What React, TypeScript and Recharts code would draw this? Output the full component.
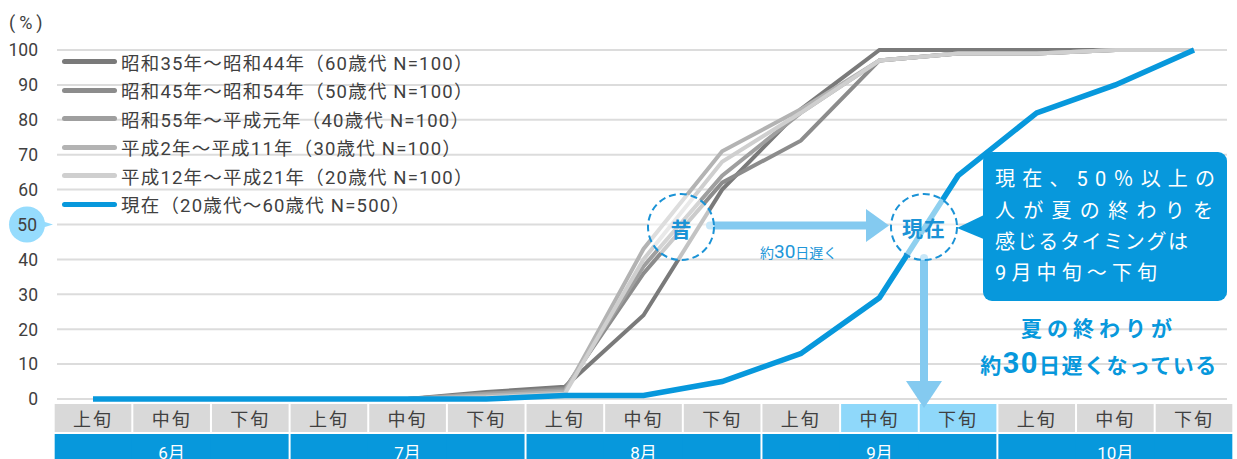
import { CartesianGrid, Legend, Line, LineChart, XAxis, YAxis } from "recharts";

// 旬ごとの累積割合（%）
const periods = [
  "6月上旬", "6月中旬", "6月下旬",
  "7月上旬", "7月中旬", "7月下旬",
  "8月上旬", "8月中旬", "8月下旬",
  "9月上旬", "9月中旬", "9月下旬",
  "10月上旬", "10月中旬", "10月下旬",
];
const age60 = [0, 0, 0, 0, 0, 2, 3.5, 24, 60, 83, 100, 100, 100, 100, 100];
const age50 = [0, 0, 0, 0, 0, 1.5, 3, 36, 62, 74, 97, 99, 99, 100, 100];
const age40 = [0, 0, 0, 0, 0, 1.5, 2.5, 38, 64, 82, 97, 99, 99, 100, 100];
const age30 = [0, 0, 0, 0, 0, 1, 2, 43, 71, 83, 97, 99, 99, 100, 100];
const age20 = [0, 0, 0, 0, 0, 0.5, 1.5, 40, 68, 82, 97, 99, 99, 100, 100];
const current = [0, 0, 0, 0, 0, 0, 1, 1, 5, 13, 29, 64, 82, 90, 100];

const yTicks = [0, 10, 20, 30, 40, 50, 60, 70, 80, 90, 100];
const highlightPeriods = ["9月中旬", "9月下旬"];

const seriesNames = [
  "昭和35年～昭和44年（60歳代 N=100）",
  "昭和45年～昭和54年（50歳代 N=100）",
  "昭和55年～平成元年（40歳代 N=100）",
  "平成2年～平成11年（30歳代 N=100）",
  "平成12年～平成21年（20歳代 N=100）",
  "現在（20歳代～60歳代 N=500）",
];

const data = periods.map((period, i) => ({
  period,
  age60: age60[i],
  age50: age50[i],
  age40: age40[i],
  age30: age30[i],
  age20: age20[i],
  current: current[i],
}));

const W = 1237;
const H = 459;
const X_H = 60;
const M = { top: 50, right: 10, bottom: 0, left: 0 };
const Y_W = 57;
const PAD_L = 36;
const PAD_R = 33;
const CELL_W = (W - M.left - M.right - Y_W - PAD_L - PAD_R) / (periods.length - 1);

const FONT = "Roboto, 'Noto Sans CJK JP', sans-serif";
const BLUE = "#0798dc";
const TEXT = "#404040";

function YTick({ x, y, payload }: any) {
  const isHalf = payload.value === 50;
  return (
    <g>
      {isHalf && (
        <>
          <circle cx={27} cy={y} r={18} fill="#96dcfd" />
          <polygon points={`${40},${y - 4} ${53},${y} ${40},${y + 4}`} fill="#96dcfd" />
        </>
      )}
      <text
        x={isHalf ? 37 : x}
        y={y}
        dy="0.36em"
        textAnchor="end"
        fontSize={17.5}
        fill={TEXT}
        fontFamily={FONT}
      >
        {payload.value}
      </text>
    </g>
  );
}

function PeriodTick({ x, y, payload }: any) {
  const value: string = payload.value;
  const month = value.slice(0, -2);
  const third = value.slice(-2);
  const half = CELL_W / 2;
  // 同じ月の中では青帯をつなげ、月の境目だけ白い隙間を残す
  const left = third === "上旬" ? x - half + 1 : x - half - 0.5;
  const right = third === "下旬" ? x + half - 1 : x + half + 0.5;
  return (
    <g>
      <rect
        x={x - half + 1}
        y={y + 5}
        width={CELL_W - 2}
        height={28}
        fill={highlightPeriods.includes(value) ? "#8fd8fa" : "#d9d9d9"}
      />
      <text
        x={x}
        y={y + 21}
        dy="0.36em"
        textAnchor="middle"
        fontSize={18}
        letterSpacing={2}
        fill={TEXT}
        fontFamily={FONT}
      >
        {third}
      </text>
      <rect x={left} y={y + 35} width={right - left} height={30} fill={BLUE} />
      {third === "中旬" && (
        <text
          x={x}
          y={y + 54}
          dy="0.36em"
          textAnchor="middle"
          fontSize={17}
          fill="#fff"
          fontFamily={FONT}
        >
          {month}
        </text>
      )}
    </g>
  );
}

function LegendList({ payload }: any) {
  const items = [...(payload ?? [])].sort(
    (a: any, b: any) => seriesNames.indexOf(a.value) - seriesNames.indexOf(b.value)
  );
  return (
    <div style={{ fontFamily: FONT }}>
      {items.map((item: any) => (
        <div key={item.value} style={{ display: "flex", alignItems: "center", height: 28.5 }}>
          <span
            style={{
              display: "inline-block",
              width: 55,
              height: 5,
              borderRadius: 3,
              background: item.color,
              marginRight: 4,
            }}
          />
          <span style={{ fontSize: 18.5, color: TEXT, whiteSpace: "nowrap", letterSpacing: 1.2 }}>
            {item.value}
          </span>
        </div>
      ))}
    </div>
  );
}

function Notes() {
  const arrow = "#84caf0";
  const ring = "#1b93d6";
  return (
    <svg
      width={W}
      height={H}
      style={{ position: "absolute", left: 0, top: 0, pointerEvents: "none" }}
      fontFamily={FONT}
    >
      <text x={9} y={23} dy="0.36em" fontSize={18} fill={TEXT}>
        (<tspan dx={4}>%</tspan><tspan dx={4}>)</tspan>
      </text>

      {/* 昔 → 現在 */}
      <line x1={710} y1={225.5} x2={868} y2={225.5} stroke={arrow} strokeWidth={8} strokeLinecap="round" />
      <polygon points="866,209 889,225.5 866,242" fill={arrow} />
      <text x={760} y={252} dy="0.36em" fill="#2196d8">
        <tspan fontSize={14}>約</tspan>
        <tspan fontSize={19}>30</tspan>
        <tspan fontSize={14}>日遅く</tspan>
      </text>

      <circle cx={681} cy={227} r={33} fill="#fff" fillOpacity={0.55} stroke={ring} strokeWidth={2} strokeDasharray="7 4" />
      <text x={681} y={229} dy="0.36em" textAnchor="middle" fontSize={21} fontWeight={700} fill={ring}>昔</text>

      <line x1={924} y1={258} x2={924} y2={385} stroke={arrow} strokeWidth={8} strokeLinecap="round" />
      <polygon points="906,381 942,381 924,408" fill={arrow} />

      <circle cx={924} cy={227} r={33} fill="#fff" fillOpacity={0.55} stroke={ring} strokeWidth={2} strokeDasharray="7 4" />
      <text x={924} y={228} dy="0.36em" textAnchor="middle" fontSize={21} fontWeight={700} fill={ring} letterSpacing={1}>現在</text>

      {/* 吹き出し */}
      <polygon points="986,214 957,228 986,240" fill={BLUE} />
      <rect x={983} y={152} width={244} height={149} rx={9} fill={BLUE} />
      <g fill="#fff" fontSize={20}>
        <text x={995} y={179} dy="0.36em" textLength={220} lengthAdjust="spacing">現在、50％以上の</text>
        <text x={995} y={211} dy="0.36em" textLength={218} lengthAdjust="spacing">人が夏の終わりを</text>
        <text x={995} y={242} dy="0.36em" textLength={193} lengthAdjust="spacing">感じるタイミングは</text>
        <text x={995} y={273} dy="0.36em" textLength={162} lengthAdjust="spacing">9月中旬～下旬</text>
      </g>

      <g fill={BLUE} fontWeight={700}>
        <text x={1099} y={328} dy="0.36em" textAnchor="middle" fontSize={21} letterSpacing={5}>夏の終わりが</text>
        <text x={1099} y={367} dy="0.36em" textAnchor="middle" letterSpacing={1.5}>
          <tspan fontSize={21}>約</tspan>
          <tspan fontSize={29}>30</tspan>
          <tspan fontSize={21}>日遅くなっている</tspan>
        </text>
      </g>
    </svg>
  );
}

export default function App() {
  return (
    <div style={{ position: "absolute", left: 0, top: 0, width: W, height: H, background: "#fff", overflow: "hidden" }}>
      <LineChart width={W} height={H} data={data} margin={M}>
        <CartesianGrid vertical={false} stroke="#dcdcdc" strokeWidth={2} />
        <XAxis
          dataKey="period"
          interval={0}
          axisLine={false}
          tickLine={false}
          tickSize={0}
          tickMargin={0}
          height={X_H}
          padding={{ left: PAD_L, right: PAD_R }}
          tick={<PeriodTick />}
        />
        <YAxis
          domain={[0, 100]}
          ticks={yTicks}
          interval={0}
          axisLine={false}
          tickLine={false}
          tickSize={0}
          tickMargin={19}
          width={Y_W}
          tick={<YTick />}
        />
        <Legend
          layout="horizontal"
          verticalAlign="middle"
          align="center"
          wrapperStyle={{ left: 62, top: 47.5, width: "auto" }}
          content={(props: any) => <LegendList {...props} />}
        />
        <Line dataKey="age60" name={seriesNames[0]} stroke="#7a7a7a" strokeWidth={4} dot={false} isAnimationActive={false} />
        <Line dataKey="age50" name={seriesNames[1]} stroke="#8c8c8c" strokeWidth={4} dot={false} isAnimationActive={false} />
        <Line dataKey="age40" name={seriesNames[2]} stroke="#9f9f9f" strokeWidth={4} dot={false} isAnimationActive={false} />
        <Line dataKey="age30" name={seriesNames[3]} stroke="#b3b3b3" strokeWidth={4} dot={false} isAnimationActive={false} />
        <Line dataKey="age20" name={seriesNames[4]} stroke="#cfcfcf" strokeWidth={4} dot={false} isAnimationActive={false} />
        <Line dataKey="current" name={seriesNames[5]} stroke={BLUE} strokeWidth={5.5} dot={false} isAnimationActive={false} />
      </LineChart>
      <Notes />
    </div>
  );
}
